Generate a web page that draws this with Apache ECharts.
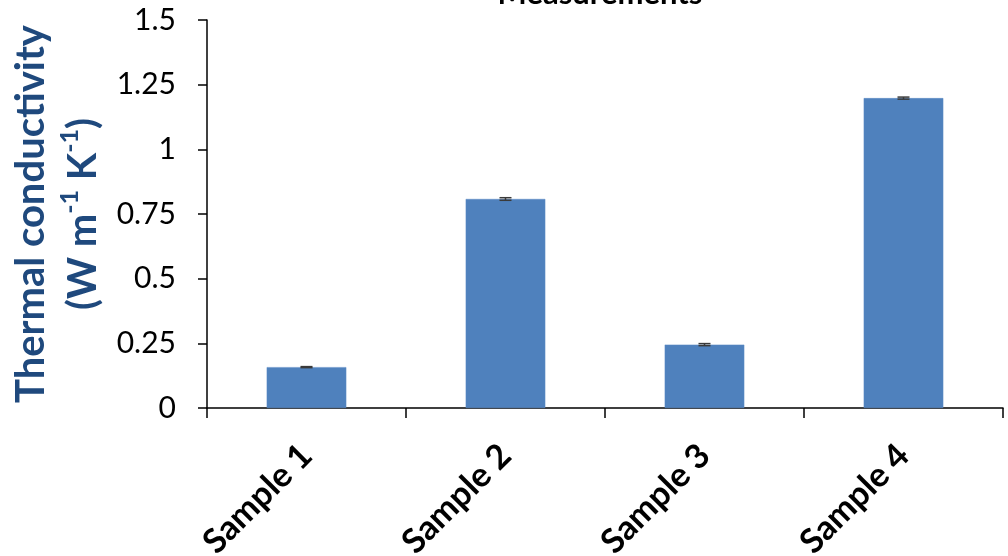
<!DOCTYPE html>
<html>
<head>
<meta charset="utf-8">
<script src="https://cdn.jsdelivr.net/npm/echarts@6/dist/echarts.min.js"></script>
<style>
html,body{margin:0;padding:0;background:#fff;}
#chart{width:1008px;height:556px;}
</style>
</head>
<body>
<div id="chart"></div>
<script>
const categories = ['Sample 1', 'Sample 2', 'Sample 3', 'Sample 4'];
const conductivity = [0.158, 0.808, 0.245, 1.198];
const errors = [0.002, 0.005, 0.004, 0.004];
const yTicks = { min: 0, max: 1.5, interval: 0.25 };
const titleText = 'Measurements';

const FONT = 'Lato';
const chart = echarts.init(document.getElementById('chart'));
const errData = conductivity.map((v, i) => [i, v - errors[i], v + errors[i]]);

chart.setOption({
  animation: false,
  backgroundColor: '#ffffff',
  title: {
    text: titleText,
    left: 600,
    textAlign: 'center',
    top: -22,
    padding: 0,
    textStyle: { fontFamily: FONT, fontWeight: 'bold', fontSize: 31, color: '#000' }
  },
  grid: { left: 207, right: 5, top: 20, bottom: 148, containLabel: false, outerBoundsMode: 'none' },
  xAxis: {
    type: 'category',
    data: categories,
    axisLine: { show: true, lineStyle: { color: '#000', width: 1.5 } },
    axisTick: { show: true, length: 10, alignWithLabel: false, lineStyle: { color: '#000', width: 1.5 } },
    axisLabel: {
      interval: 0, rotate: 45, margin: 42,
      fontFamily: FONT, fontWeight: 'bold', fontSize: 34, color: '#000'
    },
    splitLine: { show: false }
  },
  yAxis: {
    type: 'value',
    min: yTicks.min, max: yTicks.max, interval: yTicks.interval,
    axisLine: { show: true, lineStyle: { color: '#000', width: 1.5 } },
    axisTick: { show: true, length: 9, lineStyle: { color: '#000', width: 1.5 } },
    axisLabel: { margin: 31, fontFamily: FONT, fontSize: 30, color: '#000' },
    splitLine: { show: false },
    name: '{b|Thermal conductivity}\n{b|(W m}{s|-1}{b| K}{s|-1}{b|)}',
    nameLocation: 'middle',
    nameGap: 98,
    nameRotate: 90,
    nameTextStyle: {
      rich: {
        b: { fontFamily: FONT, fontWeight: 'bold', fontSize: 40, color: '#1F497D', lineHeight: 52 },
        s: { fontFamily: FONT, fontWeight: 'bold', fontSize: 25, color: '#1F497D', lineHeight: 32, verticalAlign: 'top' }
      }
    }
  },
  series: [
    {
      type: 'bar',
      data: conductivity,
      barCategoryGap: '60%',
      itemStyle: { color: '#4F81BD', borderColor: '#5B8AC4', borderWidth: 0.5 }
    },
    {
      type: 'custom',
      data: errData,
      z: 10,
      renderItem: function (params, api) {
        const x = api.value(0);
        const lo = api.coord([x, api.value(1)]);
        const hi = api.coord([x, api.value(2)]);
        const hw = 6;
        const st = { stroke: '#3a3a3a', lineWidth: 1.5 };
        return {
          type: 'group',
          children: [
            { type: 'line', shape: { x1: lo[0], y1: lo[1], x2: hi[0], y2: hi[1] }, style: st },
            { type: 'line', shape: { x1: lo[0] - hw, y1: lo[1], x2: lo[0] + hw, y2: lo[1] }, style: st },
            { type: 'line', shape: { x1: hi[0] - hw, y1: hi[1], x2: hi[0] + hw, y2: hi[1] }, style: st }
          ]
        };
      }
    }
  ]
});
</script>
</body>
</html>
